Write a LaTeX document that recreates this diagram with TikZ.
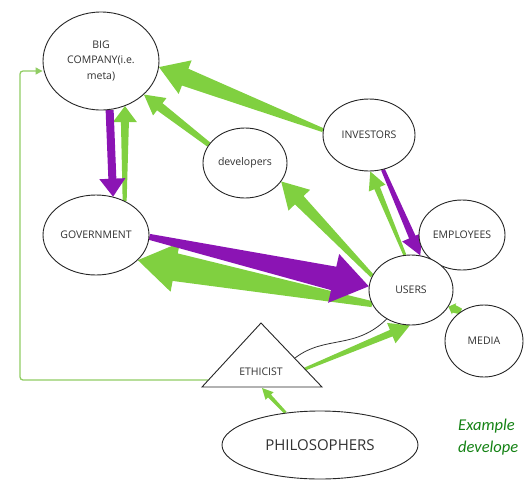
\documentclass[tikz,border=0pt]{standalone}
\usepackage{fontspec}
\setmainfont{Open Sans}
\newfontfamily\cali{Carlito}
\usetikzlibrary{calc,shapes.geometric,arrows.meta}
\definecolor{gr}{RGB}{128,208,64}
\definecolor{pu}{RGB}{139,20,180}
\definecolor{lgr}{RGB}{145,205,100}
\definecolor{txt}{RGB}{50,50,50}
\definecolor{capg}{RGB}{20,130,20}
\pgfdeclarelayer{bg}
\pgfsetlayers{bg,main}
% color, tail, tip, tail width, shaft width at head, head width, head length
\newcommand\fatarr[7]{%
  \path ($(#3)!#7pt!(#2)$) coordinate (fan);
  \fill[#1] ($(#2)!#4pt/2!90:(#3)$) -- ($(fan)!#5pt/2!-90:(#2)$) -- ($(fan)!#6pt/2!-90:(#2)$) -- (#3)
    -- ($(fan)!#6pt/2!90:(#2)$) -- ($(fan)!#5pt/2!90:(#2)$) -- ($(#2)!#4pt/2!-90:(#3)$) -- cycle;}
\begin{document}
\begin{tikzpicture}[x=1pt,y=-1pt,
  ell/.style={ellipse, draw=black!85, line width=0.9pt, fill=white, inner sep=0pt,
    text=txt, align=center, font=\fontsize{10.5}{15.5}\selectfont},
  thin/.style={lgr, line width=1.3pt, rounded corners=3pt, -{Triangle[length=7pt,width=7pt]}}]
\useasboundingbox (0,0) rectangle (525,480);
\node[ell, minimum width=116pt, minimum height=98pt] (big) at (101,61) {BIG\\COMPANY(i.e.\\meta)};
\node[ell, minimum width=84pt, minimum height=70pt] (dev) at (245,163) {developers};
\node[ell, minimum width=92pt, minimum height=72pt] (inv) at (369,135) {INVESTORS};
\node[ell, minimum width=86pt, minimum height=70pt] (emp) at (462,235) {EMPLOYEES};
\node[ell, minimum width=84pt, minimum height=70pt] (users) at (411,290) {USERS};
\node[ell, minimum width=78pt, minimum height=72pt] (media) at (484,341) {MEDIA};
\node[ell, minimum width=106pt, minimum height=80pt] (gov) at (96,235) {GOVERNMENT};
\node[ell, minimum width=196pt, minimum height=68pt, font=\fontsize{15}{18}\selectfont] (phil) at (320,445) {PHILOSOPHERS};
% ethicist triangle
\coordinate (ethA) at (261,323);
\coordinate (ethL) at (202,387);
\coordinate (ethR) at (322,387);
\coordinate (ethN) at (208,380);
\coordinate (ethK) at (305,369);
\coordinate (ethC) at (295,358);
\coordinate (ethB) at (262,388);
\filldraw[draw=black!85, line width=0.9pt, fill=white, line join=miter] (ethA) -- (ethL) -- (ethR) -- cycle;
\node[text=txt, font=\fontsize{10.5}{12}\selectfont] (eth) at (261,372) {ETHICIST};
% caption
\node[anchor=base west, inner sep=0pt, text=capg, font=\cali\itshape\fontsize{16.5}{18}\selectfont] (cap1) at (458,430) {Example};
\node[anchor=base west, inner sep=0pt, text=capg, font=\cali\itshape\fontsize{16.5}{18}\selectfont] (cap2) at (458,452) {develope};
\begin{pgfonlayer}{bg}
\coordinate (c1) at (20,380);
\coordinate (c2) at (20,71);
\draw[thin] (ethN) -- (c1) -- (c2) -- (c2 -| big.west);
\fatarr{gr}{inv.174}{big.-6}{4}{18}{36}{28}
\fatarr{gr}{dev.153}{big.-38}{5}{9}{22}{20}
\fatarr{gr}{gov.50}{big.-62}{4}{8}{24}{16}
\fatarr{pu}{big.-80}{gov.66}{8}{8}{26}{18}
\fatarr{gr}{users.200}{gov.-31}{6}{28}{50}{38}
\fatarr{gr}{users.160}{dev.-27}{4}{12}{30}{26}
\fatarr{gr}{users.100}{inv.-88}{3}{6}{18}{18}
\fatarr{pu}{inv.-68}{users.75}{4}{7}{22}{20}
\fatarr{pu}{gov.-2}{users.175}{6}{24}{50}{36}
\fatarr{gr}{media.128}{users.-24}{6}{8}{12}{6}
\fatarr{gr}{ethK}{users.268}{3}{7}{22}{20}
\fatarr{gr}{phil.137}{ethB}{3}{4}{11}{11}
\draw[black!80, line width=0.8pt] (ethC) .. controls (325,335) and (355,350) .. (users.230);
\end{pgfonlayer}
\end{tikzpicture}
\end{document}
